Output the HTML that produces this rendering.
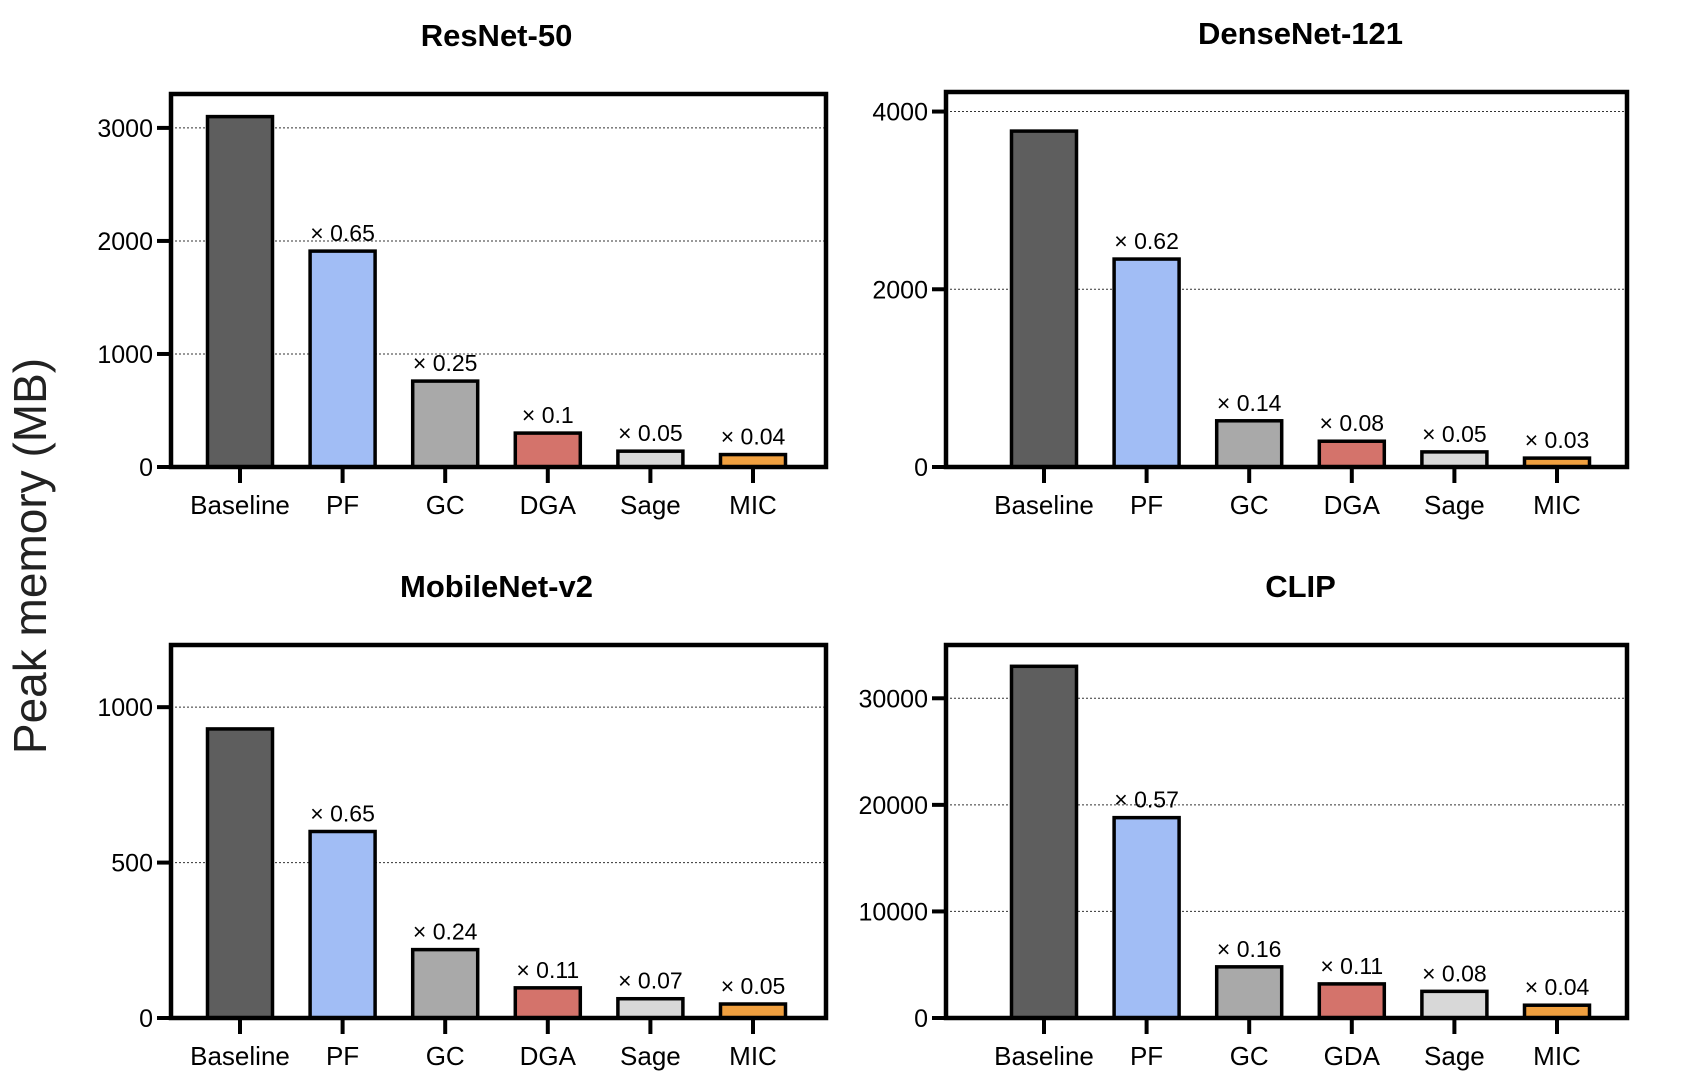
<!DOCTYPE html>
<html><head><meta charset="utf-8"><style>
html,body{margin:0;padding:0;background:#fff}
svg{display:block;font-family:"Liberation Sans",Arial,sans-serif}
</style></head><body>
<svg id="chart" width="1692" height="1084" viewBox="0 0 1692 1084" xmlns="http://www.w3.org/2000/svg">
<text x="0" y="0" transform="translate(46,556) rotate(-90)" text-anchor="middle" font-size="46" fill="#222">Peak memory (MB)</text>
</svg>
<script>
const categoriesA = ["Baseline","PF","GC","DGA","Sage","MIC"];
const categoriesClip = ["Baseline","PF","GC","GDA","Sage","MIC"];
const resnetValues = [3100,1910,760,300,140,110];
const resnetLabels = ["","× 0.65","× 0.25","× 0.1","× 0.05","× 0.04"];
const resnetTicks = [0,1000,2000,3000];
const densenetValues = [3780,2340,520,290,170,100];
const densenetLabels = ["","× 0.62","× 0.14","× 0.08","× 0.05","× 0.03"];
const densenetTicks = [0,2000,4000];
const mobilenetValues = [930,600,220,97,62,45];
const mobilenetLabels = ["","× 0.65","× 0.24","× 0.11","× 0.07","× 0.05"];
const mobilenetTicks = [0,500,1000];
const clipValues = [33000,18800,4800,3200,2500,1200];
const clipLabels = ["","× 0.57","× 0.16","× 0.11","× 0.08","× 0.04"];
const clipTicks = [0,10000,20000,30000];
const colors = ["#5e5e5e","#a1bdf5","#a9a9a9","#d4736b","#d8d8d8","#f0a040"];

const svg = document.getElementById('chart');
const NS = "http://www.w3.org/2000/svg";
function mk(tag, attrs){const e=document.createElementNS(NS,tag);for(const k in attrs)e.setAttribute(k,attrs[k]);svg.appendChild(e);return e;}

function panel(key, title, cats, vals, labels, ticks, ymax, L, R, T, B, off){
  const y = v => B - (v/ymax)*(B-T);
  const step = 102.6;
  const x = i => L + off + i*step;
  const t = mk('text',{x:(x(0)+x(5))/2,y:T-48,'text-anchor':'middle','font-size':31,'font-weight':'bold',fill:'#000'});
  t.textContent = title;
  
  
  ticks.forEach(v=>{
    if(v>0){
      const g = mk('line',{x1:L,x2:R,y1:y(v),y2:y(v),stroke:'#333','stroke-width':1,'stroke-dasharray':'2,2'});
      
      
    }
    const tk = mk('line',{x1:L-14,x2:L,y1:y(v),y2:y(v),stroke:'#000','stroke-width':4});
    
    
    const tl = mk('text',{x:L-18,y:y(v)+9,'text-anchor':'end','font-size':25,fill:'#000'});
    tl.textContent = v;
    
    
  });
  vals.forEach((v,i)=>{
    const bw = 65;
    const r = mk('rect',{x:x(i)-bw/2,y:y(v),width:bw,height:B-y(v),fill:colors[i],stroke:'#000','stroke-width':3.5});
    
    
    if(labels[i]){
      const a = mk('text',{x:x(i),y:y(v)-10,'text-anchor':'middle','font-size':23,fill:'#000'});
      a.textContent = labels[i];
      
      
    }
    const xt = mk('line',{x1:x(i),x2:x(i),y1:B,y2:B+16,stroke:'#000','stroke-width':4});
    
    
    const cl = mk('text',{x:x(i),y:B+47,'text-anchor':'middle','font-size':26,fill:'#000'});
    cl.textContent = cats[i];
    
    
  });
  const f = mk('path',{d:`M${L},${B} L${L},${T} L${R},${T} L${R},${B} Z`,fill:'none',stroke:'#000','stroke-width':4.5});
  
  
}
panel('resnet','ResNet-50',categoriesA,resnetValues,resnetLabels,resnetTicks,3300,171,826,94,467,69);
panel('densenet','DenseNet-121',categoriesA,densenetValues,densenetLabels,densenetTicks,4220,946,1627,92,467,98);
panel('mobilenet','MobileNet-v2',categoriesA,mobilenetValues,mobilenetLabels,mobilenetTicks,1200,171,826,645,1018,69);
panel('clip','CLIP',categoriesClip,clipValues,clipLabels,clipTicks,35000,946,1627,645,1018,98);
</script>
</body></html>
